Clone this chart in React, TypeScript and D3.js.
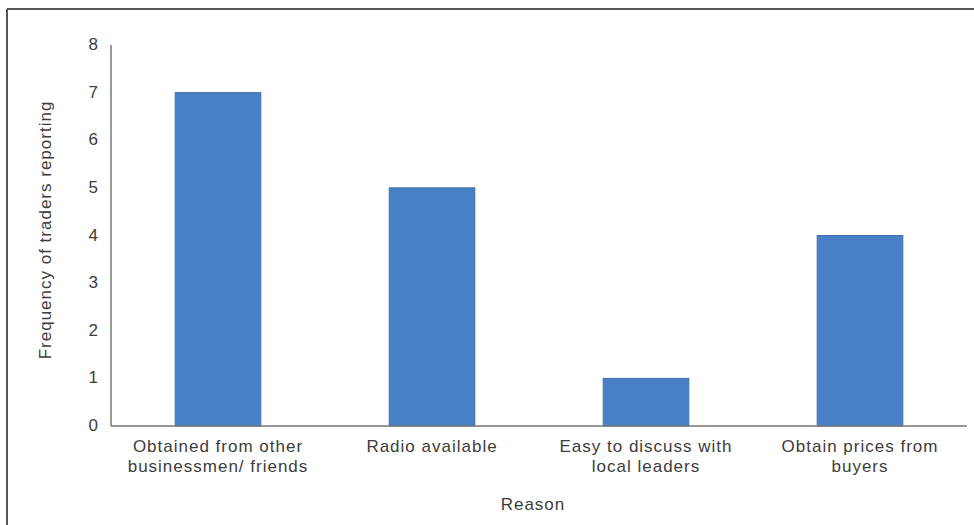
import React from "react";
import * as d3 from "d3";

const reasons: string[][] = [
  ["Obtained from other", "businessmen/ friends"],
  ["Radio available"],
  ["Easy to discuss with", "local leaders"],
  ["Obtain prices from", "buyers"],
];
const frequencies: number[] = [7, 5, 1, 4];
const yTicks: number[] = [0, 1, 2, 3, 4, 5, 6, 7, 8];
const yTitle = "Frequency of traders reporting";
const xTitle = "Reason";

const W = 974;
const H = 525;
const plot = { left: 111, right: 967, top: 45, bottom: 426 };
const font = "'Liberation Sans', Arial, sans-serif";
const textColor = "#3c3c3c";
const axisColor = "#777";

export default function App() {
  const keys = reasons.map((_, i) => String(i));
  const x = d3
    .scaleBand<string>()
    .domain(keys)
    .range([plot.left, plot.right])
    .paddingInner(0.6)
    .paddingOuter(0.3);
  const y = d3.scaleLinear().domain([0, 8]).range([plot.bottom, plot.top]);
  const cx = (i: number) => (x(String(i)) ?? 0) + x.bandwidth() / 2;

  return (
    <svg
      width={W}
      height={H}
      style={{ position: "absolute", left: 0, top: 0, background: "#fff" }}
      fontFamily={font}
    >
      {/* frame */}
      <line x1={7} y1={9} x2={W} y2={9} stroke="#555" strokeWidth={2} />
      <line x1={7} y1={9} x2={7} y2={H} stroke="#555" strokeWidth={2} />

      {/* bars */}
      {frequencies.map((v, i) => (
        <rect
          key={i}
          x={x(String(i))}
          y={y(v)}
          width={x.bandwidth()}
          height={y(0) - y(v)}
          fill="#4780c6"
          stroke="#3f6fa8"
          strokeWidth={1}
        />
      ))}

      {/* axes */}
      <line x1={plot.left} y1={plot.top} x2={plot.left} y2={plot.bottom} stroke={axisColor} strokeWidth={1.5} />
      <line x1={plot.left} y1={plot.bottom} x2={plot.right} y2={plot.bottom} stroke={axisColor} strokeWidth={1.5} />

      {yTicks.map((t) => (
        <text
          key={t}
          x={98}
          y={y(t)}
          dy="0.3em"
          textAnchor="end"
          fontSize={17}
          fill={textColor}
        >
          {t}
        </text>
      ))}

      {reasons.map((lines, i) => (
        <text
          key={i}
          y={452}
          textAnchor="middle"
          fontSize={17}
          letterSpacing={1}
          fill={textColor}
        >
          {lines.map((ln, j) => (
            <tspan key={j} x={cx(i)} dy={j === 0 ? 0 : 20}>
              {ln}
            </tspan>
          ))}
        </text>
      ))}

      <text x={533} y={510} textAnchor="middle" fontSize={17} letterSpacing={1} fill={textColor}>
        {xTitle}
      </text>
      <text
        transform={`translate(51, 230) rotate(-90)`}
        textAnchor="middle"
        fontSize={17}
        letterSpacing={1}
        fill={textColor}
      >
        {yTitle}
      </text>
    </svg>
  );
}
